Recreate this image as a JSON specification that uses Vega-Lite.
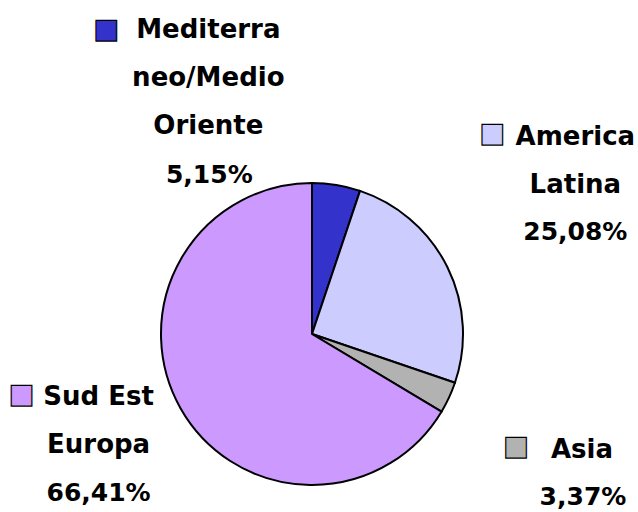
{
  "$schema": "https://vega.github.io/schema/vega-lite/v6.json",
  "width": 624,
  "height": 356,
  "autosize": {"type": "none"},
  "padding": {"left": 0, "top": 156, "right": 14, "bottom": 0},
  "background": "white",
  "config": {
    "view": {"stroke": null},
    "locale": {"number": {"decimal": ",", "thousands": ".", "grouping": [3], "currency": ["", " €"]}},
    "text": {"font": "DejaVu Sans", "fontWeight": "bold", "fill": "black"}
  },
  "data": {
    "values": [
      {"ordine": 1, "regione": "Mediterraneo/Medio Oriente", "nome": ["Mediterra", "neo/Medio", "Oriente"], "quota": 0.0515},
      {"ordine": 2, "regione": "America Latina", "nome": ["America", "Latina"], "quota": 0.2508},
      {"ordine": 3, "regione": "Asia", "nome": ["Asia"], "quota": 0.0337},
      {"ordine": 4, "regione": "Sud Est Europa", "nome": ["Sud Est", "Europa"], "quota": 0.6641}
    ]
  },
  "encoding": {
    "theta": {"field": "quota", "type": "quantitative", "stack": true},
    "order": {"field": "ordine", "type": "quantitative"}
  },
  "layer": [
    {
      "mark": {"type": "arc", "outerRadius": 151, "stroke": "black", "strokeWidth": 2},
      "encoding": {
        "color": {
          "field": "regione", "type": "nominal", "legend": null,
          "scale": {"domain": ["Mediterraneo/Medio Oriente", "America Latina", "Asia", "Sud Est Europa"], "range": ["#3333CC", "#CCCCFF", "#B2B2B2", "#CC99FF"]}
        }
      }
    },
    {
      "mark": {"type": "text", "radius": 151, "fontSize": 27, "align": "center", "baseline": "middle", "stroke": "black", "strokeWidth": 1.2, "dx": -230, "dy": -155},
      "encoding": {
        "text": {"condition": {"test": "datum.ordine === 1", "value": "■"}, "value": ""},
        "color": {"field": "regione", "type": "nominal", "legend": null}
      }
    },
    {
      "mark": {"type": "text", "radius": 151, "fontSize": 26, "align": "center", "baseline": "alphabetic", "lineHeight": 48, "dx": -128, "dy": -147},
      "encoding": {"text": {"condition": {"test": "datum.ordine === 1", "field": "nome"}, "value": ""}}
    },
    {
      "mark": {"type": "text", "radius": 151, "fontSize": 25, "align": "center", "baseline": "alphabetic", "dx": -127, "dy": -2},
      "encoding": {"text": {"condition": {"test": "datum.ordine === 1", "field": "quota", "type": "quantitative", "format": ".2%"}, "value": ""}}
    },
    {
      "mark": {"type": "text", "radius": 151, "fontSize": 27, "align": "center", "baseline": "middle", "stroke": "black", "strokeWidth": 1.2, "dx": 45, "dy": -133},
      "encoding": {
        "text": {"condition": {"test": "datum.ordine === 2", "value": "■"}, "value": ""},
        "color": {"field": "regione", "type": "nominal", "legend": null}
      }
    },
    {
      "mark": {"type": "text", "radius": 151, "fontSize": 26, "align": "center", "baseline": "alphabetic", "lineHeight": 48, "dx": 128, "dy": -122},
      "encoding": {"text": {"condition": {"test": "datum.ordine === 2", "field": "nome"}, "value": ""}}
    },
    {
      "mark": {"type": "text", "radius": 151, "fontSize": 25, "align": "center", "baseline": "alphabetic", "dx": 128, "dy": -27},
      "encoding": {"text": {"condition": {"test": "datum.ordine === 2", "field": "quota", "type": "quantitative", "format": ".2%"}, "value": ""}}
    },
    {
      "mark": {"type": "text", "radius": 151, "fontSize": 27, "align": "center", "baseline": "middle", "stroke": "black", "strokeWidth": 1.2, "dx": 67, "dy": 49},
      "encoding": {
        "text": {"condition": {"test": "datum.ordine === 3", "value": "■"}, "value": ""},
        "color": {"field": "regione", "type": "nominal", "legend": null}
      }
    },
    {
      "mark": {"type": "text", "radius": 151, "fontSize": 26, "align": "center", "baseline": "alphabetic", "lineHeight": 48, "dx": 133, "dy": 60},
      "encoding": {"text": {"condition": {"test": "datum.ordine === 3", "field": "nome"}, "value": ""}}
    },
    {
      "mark": {"type": "text", "radius": 151, "fontSize": 25, "align": "center", "baseline": "alphabetic", "dx": 134, "dy": 107},
      "encoding": {"text": {"condition": {"test": "datum.ordine === 3", "field": "quota", "type": "quantitative", "format": ".2%"}, "value": ""}}
    },
    {
      "mark": {"type": "text", "radius": 151, "fontSize": 27, "align": "center", "baseline": "middle", "stroke": "black", "strokeWidth": 1.2, "dx": -159, "dy": -13},
      "encoding": {
        "text": {"condition": {"test": "datum.ordine === 4", "value": "■"}, "value": ""},
        "color": {"field": "regione", "type": "nominal", "legend": null}
      }
    },
    {
      "mark": {"type": "text", "radius": 151, "fontSize": 26, "align": "center", "baseline": "alphabetic", "lineHeight": 48, "dx": -82, "dy": -3},
      "encoding": {"text": {"condition": {"test": "datum.ordine === 4", "field": "nome"}, "value": ""}}
    },
    {
      "mark": {"type": "text", "radius": 151, "fontSize": 25, "align": "center", "baseline": "alphabetic", "dx": -82, "dy": 93},
      "encoding": {"text": {"condition": {"test": "datum.ordine === 4", "field": "quota", "type": "quantitative", "format": ".2%"}, "value": ""}}
    }
  ]
}
